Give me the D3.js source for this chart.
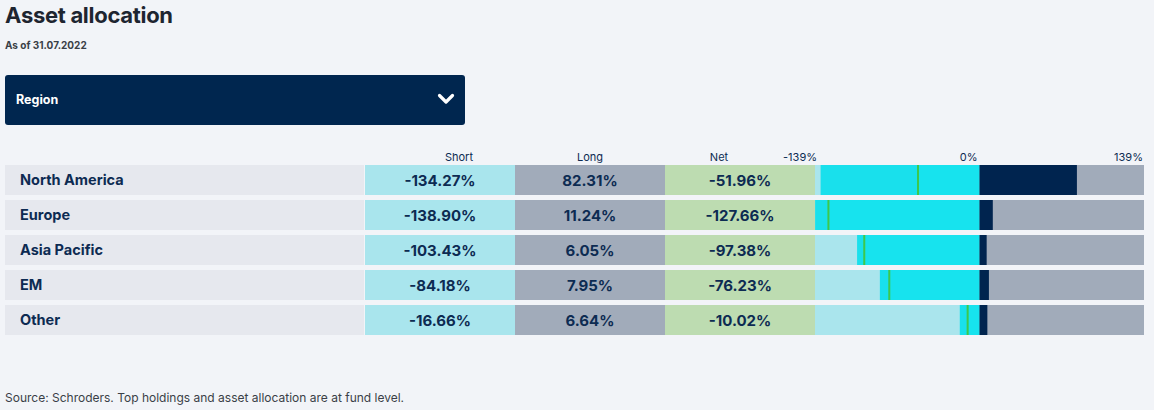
<!DOCTYPE html>
<html>
<head>
<meta charset="utf-8">
<script src="https://cdn.jsdelivr.net/npm/d3@7"></script>
<style>
  html, body { margin: 0; padding: 0; background: #f2f4f8; }
  svg { display: block; }
  text { font-family: "Inter", "Lato", sans-serif; }
</style>
</head>
<body>
<svg id="chart" width="1154" height="410"></svg>
<script>
const categories = ["North America", "Europe", "Asia Pacific", "EM", "Other"];
const shortValues = [-134.27, -138.90, -103.43, -84.18, -16.66];
const longValues = [82.31, 11.24, 6.05, 7.95, 6.64];
const netValues = [-51.96, -127.66, -97.38, -76.23, -10.02];
const columnHeaders = ["Short", "Long", "Net"];
const axisTicks = [-139, 0, 139];

const fmt = v => v.toFixed(2) + "%";
const data = categories.map((c, i) => ({ cat: c, s: shortValues[i], l: longValues[i], n: netValues[i] }));

const svg = d3.select("#chart");
const navy = "#00244f";
const textNavy = "#0d2b52";

// Title
svg.append("text").attr("x", 5).attr("y", 23).text("Asset allocation")
  .attr("font-size", 22).attr("font-weight", 700).attr("fill", "#1e2530").attr("letter-spacing", -0.3);
svg.append("text").attr("x", 5).attr("y", 49).text("As of 31.07.2022")
  .attr("font-size", 10).attr("font-weight", 700).attr("fill", "#3a3f47");

// Dropdown
svg.append("rect").attr("x", 5).attr("y", 75).attr("width", 460).attr("height", 50)
  .attr("rx", 3).attr("fill", "#00264f");
svg.append("text").attr("x", 16).attr("y", 103.5).text("Region")
  .attr("font-size", 12.5).attr("font-weight", 700).attr("fill", "#ffffff");
svg.append("path").attr("d", "M439.5,95.5 L446,102 L452.5,95.5")
  .attr("fill", "none").attr("stroke", "#ffffff").attr("stroke-width", 3.2)
  .attr("stroke-linecap", "round").attr("stroke-linejoin", "round");

// Scales
const y = d3.scaleBand().domain(categories).range([165, 335]).paddingInner(1 / 7).paddingOuter(0);
const colX = { label: [5, 365], Short: [365, 515], Long: [515, 665], Net: [665, 815] };
const x = d3.scaleLinear().domain([axisTicks[0], axisTicks[2]]).range([815, 1144]);

// Headers
const headerX = { Short: 459, Long: 590, Net: 719 };
svg.selectAll(".hdr").data(columnHeaders).join("text")
  .attr("x", d => headerX[d]).attr("y", 161).attr("text-anchor", "middle")
  .attr("font-size", 11).attr("fill", textNavy).text(d => d);

// Axis tick labels
const tickOffsets = { "-139": 2, "0": -2, "139": -1 };
svg.selectAll(".tick").data(axisTicks).join("text")
  .attr("x", d => x(d) + tickOffsets[String(d)]).attr("y", 161).attr("text-anchor", "end")
  .attr("font-size", 11).attr("fill", textNavy).text(d => d + "%");

const rows = svg.selectAll(".row").data(data).join("g").attr("class", "row");

// label cell
rows.append("rect").attr("x", colX.label[0]).attr("y", d => y(d.cat))
  .attr("width", colX.label[1] - colX.label[0] - 1).attr("height", y.bandwidth()).attr("fill", "#e6e8ee");
rows.append("text").attr("x", 20).attr("y", d => y(d.cat) + y.bandwidth() / 2 + 5)
  .attr("font-size", 14.5).attr("font-weight", 700).attr("fill", textNavy).text(d => d.cat);

const cellDefs = [
  { key: "Short", fill: "#a9e5ed", val: d => d.s },
  { key: "Long", fill: "#a1abba", val: d => d.l },
  { key: "Net", fill: "#bddcb1", val: d => d.n }
];
cellDefs.forEach(cd => {
  rows.append("rect").attr("x", colX[cd.key][0]).attr("y", d => y(d.cat))
    .attr("width", colX[cd.key][1] - colX[cd.key][0]).attr("height", y.bandwidth()).attr("fill", cd.fill);
  rows.append("text").attr("x", (colX[cd.key][0] + colX[cd.key][1]) / 2)
    .attr("y", d => y(d.cat) + y.bandwidth() / 2 + 5.5).attr("text-anchor", "middle")
    .attr("font-size", 15).attr("font-weight", 700).attr("fill", textNavy).text(d => fmt(cd.val(d)));
});

// mini bar chart backgrounds
rows.append("rect").attr("x", x(axisTicks[0])).attr("y", d => y(d.cat))
  .attr("width", x(0) - x(axisTicks[0])).attr("height", y.bandwidth()).attr("fill", "#aae5ed");
rows.append("rect").attr("x", x(0)).attr("y", d => y(d.cat))
  .attr("width", x(axisTicks[2]) - x(0)).attr("height", y.bandwidth()).attr("fill", "#a1abba");
// short bar
rows.append("rect").attr("x", d => x(d.s)).attr("y", d => y(d.cat))
  .attr("width", d => x(0) - x(d.s)).attr("height", y.bandwidth()).attr("fill", "#19e0ec");
// net bar
rows.append("rect").attr("x", d => x(d.n)).attr("y", d => y(d.cat))
  .attr("width", d => x(0) - x(d.n)).attr("height", y.bandwidth()).attr("fill", "#17e3ee");
// long bar
rows.append("rect").attr("x", x(0)).attr("y", d => y(d.cat))
  .attr("width", d => x(d.l) - x(0)).attr("height", y.bandwidth()).attr("fill", navy);
// net marker
rows.append("rect").attr("x", d => x(d.n) - 1).attr("y", d => y(d.cat))
  .attr("width", 2).attr("height", y.bandwidth()).attr("fill", "#3ec84c");

// Source
svg.append("text").attr("x", 5).attr("y", 402)
  .text("Source: Schroders. Top holdings and asset allocation are at fund level.")
  .attr("font-size", 12).attr("fill", "#3a3f47");
</script>
</body>
</html>
